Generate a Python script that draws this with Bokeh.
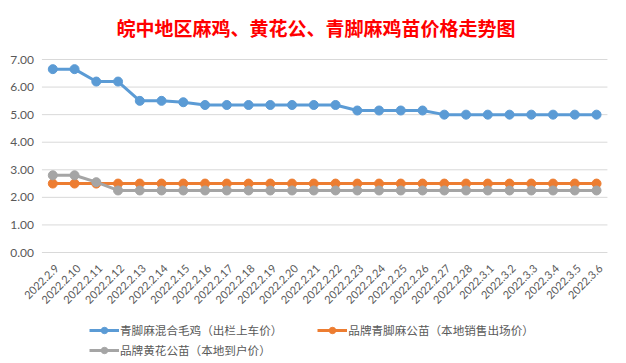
import math
from bokeh.plotting import figure
from bokeh.models import ColumnDataSource, Legend, LegendItem, Range1d
from bokeh.core.properties import value
from bokeh.embed import file_html
from bokeh.resources import INLINE

dates = ["2022.2.9", "2022.2.10", "2022.2.11", "2022.2.12", "2022.2.13", "2022.2.14",
         "2022.2.15", "2022.2.16", "2022.2.17", "2022.2.18", "2022.2.19", "2022.2.20",
         "2022.2.21", "2022.2.22", "2022.2.23", "2022.2.24", "2022.2.25", "2022.2.26",
         "2022.2.27", "2022.2.28", "2022.3.1", "2022.3.2", "2022.3.3", "2022.3.4",
         "2022.3.5", "2022.3.6"]
mixed_chick = [6.65, 6.65, 6.2, 6.2, 5.5, 5.5, 5.45, 5.35, 5.35, 5.35, 5.35, 5.35, 5.35,
               5.35, 5.15, 5.15, 5.15, 5.15, 5.0, 5.0, 5.0, 5.0, 5.0, 5.0, 5.0, 5.0]
brand_qingjiao = [2.5] * 26
brand_huanghua = [2.8, 2.8, 2.55, 2.25, 2.25, 2.25, 2.25, 2.25, 2.25, 2.25, 2.25, 2.25, 2.25,
                  2.25, 2.25, 2.25, 2.25, 2.25, 2.25, 2.25, 2.25, 2.25, 2.25, 2.25, 2.25, 2.25]
series_names = ["青脚麻混合毛鸡（出栏上车价）", "品牌青脚麻公苗（本地销售出场价）", "品牌黄花公苗（本地到户价）"]
colors = ["#5B9BD5", "#ED7D31", "#A5A5A5"]
y_ticks = [0, 1, 2, 3, 4, 5, 6, 7]
y_tick_labels = ["0.00", "1.00", "2.00", "3.00", "4.00", "5.00", "6.00", "7.00"]

n = len(dates)
idx = list(range(n))
src = ColumnDataSource(dict(x=idx, a=mixed_chick, b=brand_qingjiao, c=brand_huanghua))

# layout (pixels)
FIG_W = 610
FRAME_H = 310
PLOT_H = 193          # pixels for values 0..7
TOP_PAD = 8           # pixels above the 7.00 gridline
CAT_W = 21.75         # pixels per category
FIRST_X = 52.3        # pixel centre of the first category
x_start = -FIRST_X / CAT_W
x_end = x_start + FIG_W / CAT_W
y_high = 7 + TOP_PAD * 7 / PLOT_H
y_low = y_high - FRAME_H * 7 / PLOT_H

p = figure(frame_width=FIG_W, frame_height=FRAME_H,
           x_range=Range1d(x_start, x_end), y_range=Range1d(y_low, y_high),
           output_backend="svg", toolbar_location=None,
           x_axis_location=None, y_axis_location=None,
           min_border_left=0, min_border_right=0, min_border_top=45, min_border_bottom=0)
p.title.text = "皖中地区麻鸡、黄花公、青脚麻鸡苗价格走势图"
p.title.align = "left"
p.title.offset = 116
p.title.text_color = "#FF0000"
p.title.text_font = "Noto Sans CJK SC"
p.title.text_font_size = "19px"
p.title.text_font_style = "bold"
p.title.standoff = 22

p.outline_line_color = None
p.background_fill_color = "white"
p.border_fill_color = "white"
p.xgrid.grid_line_color = None
p.ygrid.grid_line_color = None

# horizontal gridlines across the category span
p.segment(x0=[-0.5] * len(y_ticks), x1=[n - 0.5] * len(y_ticks), y0=y_ticks, y1=y_ticks,
          line_color="#D9D9D9", line_width=1)

# value-axis labels
p.text(x=[-0.5] * len(y_ticks), y=y_ticks, text=y_tick_labels, x_offset=-8,
       text_align="right", text_baseline="middle",
       text_font=value("Lato"), text_font_size="12px", text_color="#595959")

# date labels, rotated 45 degrees under the zero line
p.text(x=idx, y=[-0.5] * n, text=dates, angle=math.pi / 4,
       x_offset=4, text_align="right", text_baseline="middle",
       text_font=value("Lato"), text_font_size="11px", text_color="#595959")

items = []
for key, name, col in zip(["a", "b", "c"], series_names, colors):
    l = p.line("x", key, source=src, line_color=col, line_width=3)
    m = p.scatter("x", key, source=src, size=9, fill_color=col, line_color=col)
    items.append(LegendItem(label=name, renderers=[l, m]))

common = dict(label_text_font="Noto Sans CJK SC", label_text_font_size="11.6px",
              label_text_color="#595959", glyph_width=30, glyph_height=16,
              label_height=16, label_standoff=1, spacing=35, padding=0, margin=0,
              border_line_color=None, background_fill_alpha=0, orientation="horizontal")
legend1 = Legend(items=items[:2], location=(89, 23), **common)
legend2 = Legend(items=items[2:], location=(89, 3), **common)
p.add_layout(legend1, "center")
p.add_layout(legend2, "center")

open("out.html", "w").write(file_html(p, INLINE))
